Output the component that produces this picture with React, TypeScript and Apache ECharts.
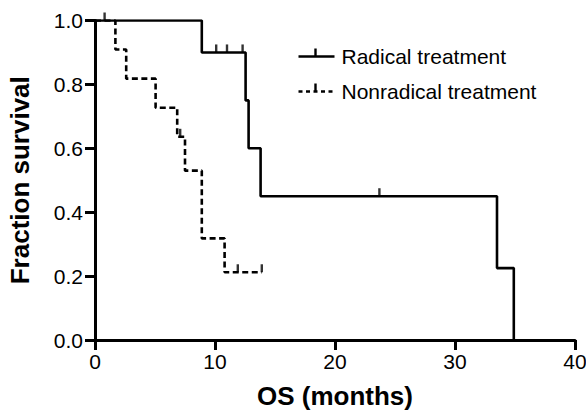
import React, { useEffect, useRef } from "react";
import * as echarts from "echarts";

const seriesNames = ["Radical treatment", "Nonradical treatment"];

// Kaplan-Meier steps: [time (months), survival]
const radicalSteps: [number, number][] = [
  [0, 1.0],
  [8.9, 0.9],
  [12.55, 0.75],
  [12.8, 0.6],
  [13.8, 0.45],
  [33.5, 0.225],
  [34.9, 0.0],
];
const radicalCensored: [number, number][] = [
  [0.8, 1.0],
  [10.1, 0.9],
  [11.0, 0.9],
  [12.3, 0.9],
  [23.7, 0.45],
];

const nonradicalSteps: [number, number][] = [
  [0, 1.0],
  [1.7, 0.909],
  [2.6, 0.818],
  [5.05, 0.727],
  [6.85, 0.636],
  [7.5, 0.53],
  [8.9, 0.318],
  [10.8, 0.212],
  [13.9, 0.212],
];
const nonradicalCensored: [number, number][] = [
  [7.1, 0.636],
  [11.9, 0.212],
  [13.9, 0.212],
];

const xTicks = [0, 10, 20, 30, 40];
const yTicks = [0, 0.2, 0.4, 0.6, 0.8, 1.0];

const FONT = "'Liberation Sans', Arial, Helvetica, sans-serif";

export default function App() {
  const ref = useRef<HTMLDivElement>(null);
  useEffect(() => {
    if (!ref.current) return;
    const chart = echarts.init(ref.current, undefined, { renderer: "svg" });
    const lw = 2.6;
    const aw = 3;
    const ac = "#000000";
    const dash = [6, 3.5];
    const tickSymbol = { symbol: "rect", symbolSize: [2.4, 8], symbolOffset: [0, -4] };
    chart.setOption({
      animation: false,
      backgroundColor: "#ffffff",
      textStyle: { fontFamily: FONT },
      grid: {
        left: 95,
        right: 11,
        top: 20.5,
        bottom: 73,
        containLabel: false,
        outerBoundsMode: "none",
      },
      xAxis: {
        type: "value",
        min: xTicks[0],
        max: xTicks[xTicks.length - 1],
        interval: 10,
        name: "OS (months)",
        nameLocation: "middle",
        nameGap: 43,
        nameTextStyle: { fontSize: 26, fontWeight: "bold", color: "#000", fontFamily: FONT },
        axisLine: { show: true, onZero: false, lineStyle: { color: ac, width: aw, opacity: 1 } },
        axisTick: { show: true, inside: false, length: 10, lineStyle: { color: ac, width: aw, opacity: 1 } },
        axisLabel: { fontSize: 21, color: "#000", margin: 11, fontFamily: FONT },
        splitLine: { show: false },
      },
      yAxis: {
        type: "value",
        min: yTicks[0],
        max: yTicks[yTicks.length - 1],
        interval: 0.2,
        name: "Fraction survival",
        nameLocation: "middle",
        nameGap: 62,
        nameTextStyle: { fontSize: 26, fontWeight: "bold", color: "#000", fontFamily: FONT },
        axisLine: { show: true, onZero: false, lineStyle: { color: ac, width: aw, opacity: 1 } },
        axisTick: { show: true, inside: false, length: 10, lineStyle: { color: ac, width: aw, opacity: 1 } },
        axisLabel: {
          fontSize: 21,
          color: "#000",
          margin: 12,
          fontFamily: FONT,
          formatter: (v: number) => v.toFixed(1),
        },
        splitLine: { show: false },
      },
      series: [
        {
          name: seriesNames[0],
          type: "line",
          step: "end",
          data: radicalSteps,
          showSymbol: false,
          symbol: "none",
          lineStyle: { color: "#000", width: lw },
          z: 3,
        },
        {
          name: seriesNames[0] + " censored",
          type: "scatter",
          data: radicalCensored,
          ...tickSymbol,
          itemStyle: { color: "#000" },
          z: 4,
        },
        {
          name: seriesNames[1],
          type: "line",
          step: "end",
          data: nonradicalSteps,
          showSymbol: false,
          symbol: "none",
          lineStyle: { color: "#000", width: lw, type: dash },
          z: 3,
        },
        {
          name: seriesNames[1] + " censored",
          type: "scatter",
          data: nonradicalCensored,
          ...tickSymbol,
          itemStyle: { color: "#000" },
          z: 4,
        },
      ],
      graphic: [
        {
          type: "group",
          left: 296,
          top: 46,
          children: [
            { type: "line", shape: { x1: 0, y1: 12, x2: 36, y2: 12 }, style: { stroke: "#000", lineWidth: lw } },
            { type: "line", shape: { x1: 17, y1: 12, x2: 17, y2: 4 }, style: { stroke: "#000", lineWidth: 2.4 } },
            {
              type: "text",
              x: 43,
              y: 12,
              style: { text: seriesNames[0], fontSize: 21, fill: "#000", fontFamily: FONT, verticalAlign: "middle" },
            },
            {
              type: "line",
              shape: { x1: 0, y1: 47, x2: 36, y2: 47 },
              style: { stroke: "#000", lineWidth: lw, lineDash: [4, 3.5] },
            },
            { type: "line", shape: { x1: 17, y1: 47, x2: 17, y2: 39 }, style: { stroke: "#000", lineWidth: 2.4 } },
            {
              type: "text",
              x: 43,
              y: 47,
              style: { text: seriesNames[1], fontSize: 21, fill: "#000", fontFamily: FONT, verticalAlign: "middle" },
            },
          ],
        },
      ],
    });
    return () => chart.dispose();
  }, []);
  return (
    <div
      ref={ref}
      style={{ position: "fixed", left: 0, top: 0, width: 586, height: 413, background: "#fff" }}
    />
  );
}
